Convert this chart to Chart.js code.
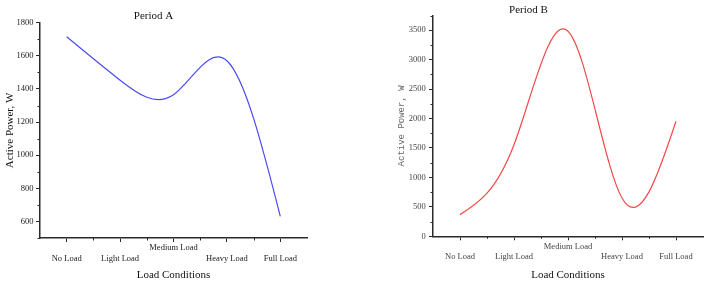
<!DOCTYPE html>
<html>
<head>
<meta charset="utf-8">
<script src="https://cdn.jsdelivr.net/npm/chart.js@4.4.1/dist/chart.umd.min.js"></script>
<style>
  html, body { margin: 0; padding: 0; background: #ffffff; }
  #wrap { position: relative; width: 708px; height: 283px; overflow: hidden; }
  .pane { position: absolute; top: 0; width: 354px; height: 283px; }
</style>
</head>
<body>
<div id="wrap">
  <div class="pane" style="left:0"><canvas id="cA" width="354" height="283"></canvas></div>
  <div class="pane" style="left:354px"><canvas id="cB" width="354" height="283"></canvas></div>
</div>
<script>
// ---- data ----
const categories = ['No Load', 'Light Load', 'Medium Load', 'Heavy Load', 'Full Load'];
const periodA = [1715, 1453, 1365, 1570, 631];
const periodB = [368, 1556, 3483, 650, 1954];
const yTicksA = [600, 800, 1000, 1200, 1400, 1600, 1800];
const yTicksB = [0, 500, 1000, 1500, 2000, 2500, 3000, 3500];
const titleA = 'Period A';
const titleB = 'Period B';
const xTitle = 'Load Conditions';
const yTitle = 'Active Power, W';

Chart.defaults.animation = false;
Chart.defaults.devicePixelRatio = 1;

const AXIS = '#2a2a2a';

// minor tick marks placed with the scales
const minorTicks = {
  id: 'minorTicks',
  afterDraw(chart) {
    const ctx = chart.ctx;
    const x = chart.scales.x, y = chart.scales.y;
    const area = chart.chartArea;
    ctx.save();
    ctx.strokeStyle = AXIS;
    ctx.lineWidth = 1;
    const tv = y.ticks.map(t => t.value);
    const mins = [];
    for (let i = 0; i < tv.length - 1; i++) mins.push((tv[i] + tv[i + 1]) / 2);
    if (tv.length > 1) {
      const step = tv[1] - tv[0];
      if (tv[0] - step / 2 >= y.min) mins.push(tv[0] - step / 2);
      if (tv[tv.length - 1] + step / 2 <= y.max) mins.push(tv[tv.length - 1] + step / 2);
    }
    mins.forEach(v => {
      const py = Math.round(y.getPixelForValue(v)) + 0.5;
      ctx.beginPath();
      ctx.moveTo(area.left - 2.5, py);
      ctx.lineTo(area.left, py);
      ctx.stroke();
    });
    for (let i = 0; i < categories.length - 1; i++) {
      const px = Math.round((x.getPixelForValue(i) + x.getPixelForValue(i + 1)) / 2) + 0.5;
      ctx.beginPath();
      ctx.moveTo(px, area.bottom);
      ctx.lineTo(px, area.bottom + 2.5);
      ctx.stroke();
    }
    ctx.restore();
  }
};

// natural cubic spline control points for the library's line element
const naturalSpline = {
  id: 'naturalSpline',
  beforeDatasetsDraw(chart) {
    chart.getSortedVisibleDatasetMetas().forEach(meta => {
      const line = meta.dataset, pts = meta.data;
      if (!line || !pts || pts.length < 3) return;
      line.updateControlPoints(chart.chartArea, meta.iScale.axis);
      const n = pts.length;
      const xs = pts.map(p => p.x), ys = pts.map(p => p.y);
      const h = [];
      for (let i = 0; i < n - 1; i++) h.push(xs[i + 1] - xs[i]);
      const a = new Array(n).fill(0), b = new Array(n).fill(1), c = new Array(n).fill(0), d = new Array(n).fill(0);
      for (let i = 1; i < n - 1; i++) {
        a[i] = h[i - 1];
        b[i] = 2 * (h[i - 1] + h[i]);
        c[i] = h[i];
        d[i] = 6 * ((ys[i + 1] - ys[i]) / h[i] - (ys[i] - ys[i - 1]) / h[i - 1]);
      }
      for (let i = 1; i < n; i++) {
        const w = a[i] / b[i - 1];
        b[i] -= w * c[i - 1];
        d[i] -= w * d[i - 1];
      }
      const M = new Array(n).fill(0);
      M[n - 1] = d[n - 1] / b[n - 1];
      for (let i = n - 2; i >= 0; i--) M[i] = (d[i] - c[i] * M[i + 1]) / b[i];
      M[0] = 0; M[n - 1] = 0;
      const m = new Array(n);
      for (let i = 0; i < n - 1; i++) m[i] = (ys[i + 1] - ys[i]) / h[i] - h[i] * (2 * M[i] + M[i + 1]) / 6;
      m[n - 1] = (ys[n - 1] - ys[n - 2]) / h[n - 2] + h[n - 2] * (M[n - 2] + 2 * M[n - 1]) / 6;
      for (let i = 0; i < n; i++) {
        const hp = i > 0 ? h[i - 1] : 0, hn = i < n - 1 ? h[i] : 0;
        pts[i].cp1x = xs[i] - hp / 3; pts[i].cp1y = ys[i] - m[i] * hp / 3;
        pts[i].cp2x = xs[i] + hn / 3; pts[i].cp2y = ys[i] + m[i] * hn / 3;
      }
      line._path = undefined;
    });
  }
};

function makeChart(id, values, color, yTicks, cfg) {
  return new Chart(document.getElementById(id), {
    type: 'line',
    data: {
      labels: categories,
      datasets: [{
        data: values,
        borderColor: color,
        borderWidth: 1.2,
        pointRadius: 0,
        tension: 0.4,
        fill: false
      }]
    },
    options: {
      responsive: false,
      animation: false,
      layout: { padding: cfg.layoutPadding },
      plugins: {
        legend: { display: false },
        tooltip: { enabled: false },
        title: {
          display: true,
          text: cfg.title,
          color: '#111',
          font: { family: 'Liberation Serif', size: 11, weight: 'normal', lineHeight: 1 },
          padding: cfg.titlePadding
        }
      },
      scales: {
        x: {
          type: 'category',
          offset: true,
          afterFit: s => { s.height = cfg.xHeight; },
          border: { display: true, color: AXIS, width: 1.5 },
          grid: { display: true, drawOnChartArea: false, drawTicks: true, tickLength: 4, tickColor: AXIS, tickWidth: 1, offset: false },
          ticks: {
            autoSkip: false,
            maxRotation: 0,
            minRotation: 0,
            padding: 0.7,
            color: cfg.tickColor,
            font: { family: 'Liberation Serif', size: 8.5, lineHeight: 1.25 },
            callback: (v, i) => (i === 2 ? [categories[i]] : ['', categories[i]])
          },
          title: {
            display: true,
            text: xTitle,
            color: '#111',
            font: { family: 'Liberation Serif', size: 11, lineHeight: 1.2 },
            padding: { top: 0, bottom: 1.4 }
          }
        },
        y: {
          type: 'linear',
          min: cfg.min,
          max: cfg.max,
          afterBuildTicks: s => { s.ticks = yTicks.map(v => ({ value: v })); },
          afterFit: s => { s.width = cfg.yWidth; },
          border: { display: true, color: AXIS, width: 1.5 },
          grid: { display: true, drawOnChartArea: false, drawTicks: true, tickLength: 4, tickColor: AXIS, tickWidth: 1 },
          ticks: {
            padding: cfg.yTickPad,
            color: cfg.tickColor,
            font: { family: 'Liberation Serif', size: 8.5 },
            callback: v => String(v)
          },
          title: {
            display: true,
            text: yTitle,
            color: cfg.yTitleColor,
            font: cfg.yTitleFont,
            padding: { top: cfg.yTitlePad, bottom: 0 }
          }
        }
      }
    },
    plugins: [naturalSpline, minorTicks]
  });
}

makeChart('cA', periodA, '#4b4bf5', yTicksA, {
  title: titleA,
  layoutPadding: { left: 0, right: 47, top: 0, bottom: 0 },
  titlePadding: { top: 10.2, bottom: 1.5 },
  xHeight: 45,
  yWidth: 40,
  min: 500, max: 1800,
  yTickPad: 2.5,
  tickColor: '#222',
  yTitleColor: '#111',
  yTitleFont: { family: 'Liberation Serif', size: 11, lineHeight: 1.2 },
  yTitlePad: 3.4
});

makeChart('cB', periodB, '#f24a4a', yTicksB, {
  title: titleB,
  layoutPadding: { left: 0, right: 5, top: 0, bottom: 0 },
  titlePadding: { top: 4.5, bottom: 0 },
  xHeight: 46.7,
  yWidth: 79,
  min: 0, max: 3750,
  yTickPad: 3.3,
  tickColor: '#444',
  yTitleColor: '#666',
  yTitleFont: { family: 'Liberation Mono', size: 9, lineHeight: 1.2 },
  yTitlePad: 42.3
});
</script>
</body>
</html>
